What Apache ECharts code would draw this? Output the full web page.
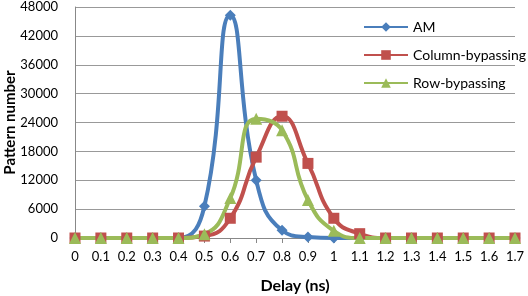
<!DOCTYPE html>
<html>
<head>
<meta charset="utf-8">
<script src="https://cdn.jsdelivr.net/npm/echarts@6/dist/echarts.min.js"></script>
<style>
  html, body { margin: 0; padding: 0; background: #fff; }
  #chart { width: 528px; height: 296px; }
</style>
</head>
<body>
<div id="chart"></div>
<script>
// 延迟分布数据
const delays = ['0', '0.1', '0.2', '0.3', '0.4', '0.5', '0.6', '0.7', '0.8', '0.9',
  '1', '1.1', '1.2', '1.3', '1.4', '1.5', '1.6', '1.7']
const amCounts = [0, 0, 0, 0, 0, 6600, 46300, 12000, 1600, 200, 0, 0, 0, 0, 0, 0, 0, 0]
const columnCounts = [0, 0, 0, 0, 0, 400, 4100, 16800, 25300, 15500, 4100, 900, 0, 0, 0, 0, 0, 0]
const rowCounts = [0, 0, 0, 0, 0, 800, 8300, 24800, 22400, 7900, 1500, 0, 0, 0, 0, 0, 0, 0]

const font = 'Lato'

function lineSeries(name, data, symbol, color, size) {
  return {
    name,
    type: 'line',
    data,
    smooth: 0.5,
    symbol,
    symbolSize: size,
    lineStyle: { color, width: 4 },
    itemStyle: { color },
  }
}

const chart = echarts.init(document.getElementById('chart'))
chart.setOption({
  animation: false,
  textStyle: { fontFamily: font },
  grid: { left: 75, right: 13, top: 7, bottom: 58, outerBoundsMode: 'none', containLabel: false },
  legend: {
    orient: 'vertical',
    left: 358,
    top: 15,
    itemGap: 14,
    itemWidth: 44,
    itemHeight: 12,
    textStyle: { fontFamily: font, fontSize: 14, color: '#000' },
    data: ['AM', 'Column-bypassing', 'Row-bypassing'],
  },
  xAxis: {
    type: 'category',
    data: delays,
    boundaryGap: false,
    name: 'Delay (ns)',
    nameLocation: 'middle',
    nameGap: 40,
    nameMoveOverlap: false,
    nameTextStyle: { fontFamily: font, fontSize: 16, fontWeight: 'bold', color: '#000' },
    axisLine: { lineStyle: { color: '#888' } },
    axisTick: { alignWithLabel: true, length: 5, lineStyle: { color: '#888' } },
    axisLabel: { fontFamily: font, fontSize: 13, color: '#000', margin: 12, interval: 0 },
  },
  yAxis: {
    type: 'value',
    min: 0,
    max: 48000,
    interval: 6000,
    name: 'Pattern number',
    nameLocation: 'middle',
    nameGap: 57,
    nameMoveOverlap: false,
    nameTextStyle: { fontFamily: font, fontSize: 15, fontWeight: 'bold', color: '#000' },
    axisLine: { show: true, lineStyle: { color: '#888' } },
    axisTick: { show: false },
    axisLabel: { fontFamily: font, fontSize: 13, color: '#000', margin: 17, formatter: (v) => String(v) },
    splitLine: { lineStyle: { color: '#999', width: 1 } },
  },
  series: [
    lineSeries('AM', amCounts, 'diamond', '#4A7EBB', 11),
    lineSeries('Column-bypassing', columnCounts, 'rect', '#C0504D', 11),
    lineSeries('Row-bypassing', rowCounts, 'triangle', '#9BBB59', 12),
  ],
})
</script>
</body>
</html>
